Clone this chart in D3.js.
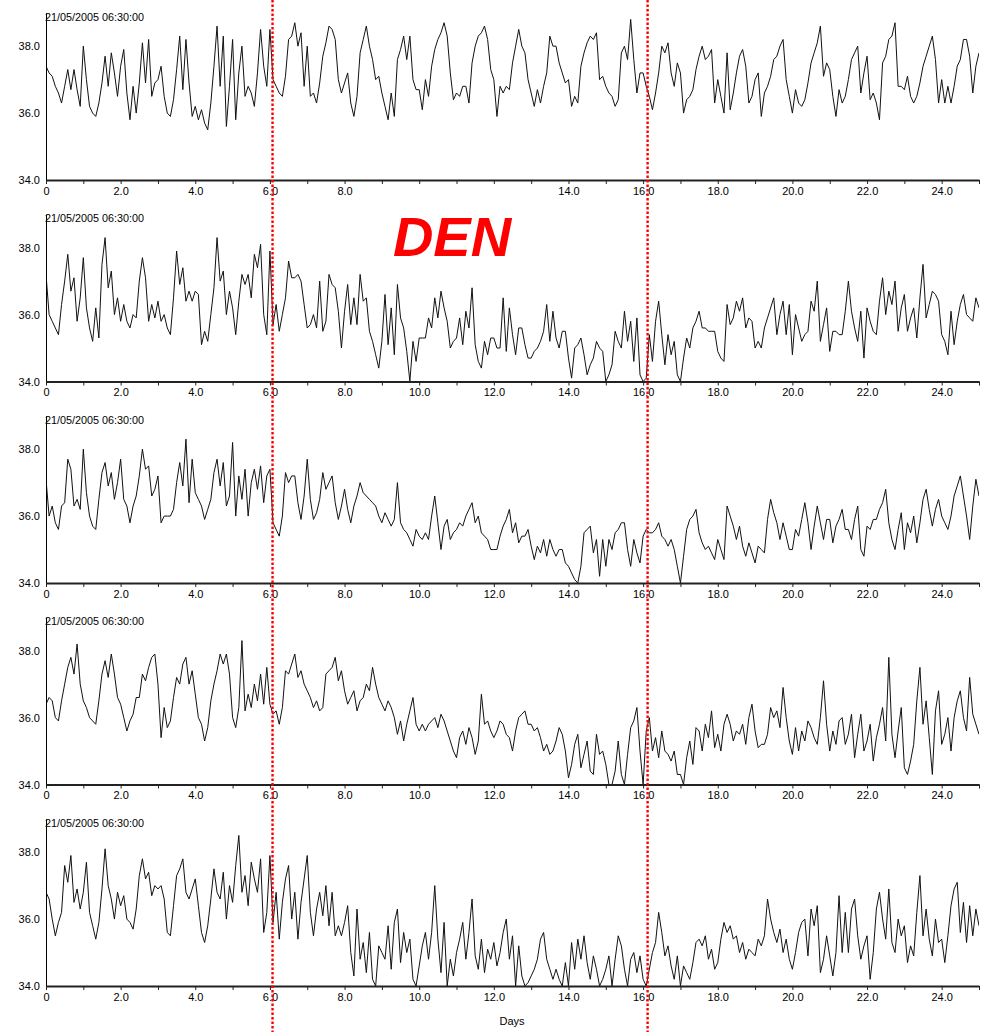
<!DOCTYPE html>
<html>
<head>
<meta charset="utf-8">
<script src="https://cdn.jsdelivr.net/npm/d3@7"></script>
<style>
  body { margin: 0; background: #fff; }
  svg { display: block; }
  text { font-family: "Liberation Sans", Arial, sans-serif; }
</style>
</head>
<body>
<svg id="chart" width="988" height="1032"></svg>
<script>
// Core body temperature (°C), one reading every 2 hours, 25 days per trace.
const samplesPerDay = 12;
const startStamp = "21/05/2005 06:30:00";
const dayTicks = d3.range(0, 26, 1);
const tempTicks = [34, 36, 38];
const markerDays = [6.07, 16.12];
const headline = "DEN";
const axisTitle = "Days";

const subject1 = [
  37.4,37.2,37.1,36.8,36.6,36.3,36.8,37.3,36.7,37.3,36.7,36.2,
  38.0,37.0,36.2,36.0,35.9,36.3,36.9,37.7,36.8,37.8,37.2,36.5,
  37.4,37.9,36.6,35.8,36.8,36.0,36.9,38.1,36.9,38.2,36.5,36.9,
  37.0,37.4,36.5,36.0,35.9,36.4,37.3,38.3,36.7,38.2,36.9,35.9,
  36.2,35.8,36.1,35.7,35.5,36.3,37.4,38.6,36.8,38.3,35.6,36.8,
  38.2,35.8,37.2,38.0,36.5,36.8,36.6,36.2,37.2,38.5,37.4,36.8,
  38.5,37.0,36.8,36.6,36.5,37.1,38.2,38.3,38.7,38.0,38.4,36.8,
  38.0,36.5,36.6,36.3,36.9,37.7,38.1,38.6,38.5,38.2,37.0,36.6,
  36.9,37.2,36.3,35.9,36.5,37.8,38.2,38.6,38.0,37.6,37.0,37.1,
  36.6,36.2,35.8,36.6,35.9,37.6,37.9,38.3,37.6,38.3,37.0,36.7,
  36.7,36.1,37.0,36.5,37.4,37.9,38.2,38.4,38.7,38.3,37.2,36.4,
  36.6,36.5,36.8,36.8,36.3,37.5,38.0,38.3,38.4,38.6,38.2,37.3,
  37.0,35.9,36.8,36.6,36.8,36.7,37.5,38.0,38.5,38.0,37.8,37.0,
  36.6,36.2,36.7,36.3,36.8,37.2,38.3,38.0,38.0,37.5,37.2,36.9,
  37.0,36.2,36.5,36.3,37.4,37.8,38.1,38.3,38.2,38.4,37.0,37.1,
  36.8,36.6,36.5,36.2,36.4,37.8,38.0,37.6,38.8,37.6,36.6,37.2,
  37.2,36.8,36.5,36.1,36.6,37.2,38.0,37.8,38.1,37.2,36.8,37.5,
  37.2,36.0,36.4,36.5,36.7,37.3,37.7,38.0,37.6,37.7,37.9,36.3,
  37.0,36.5,36.0,37.8,36.1,36.6,37.2,37.7,37.9,37.4,36.3,36.5,
  37.0,37.2,35.9,36.6,36.8,37.1,37.6,37.7,38.0,38.2,37.0,36.5,
  36.0,36.7,36.3,36.2,36.4,36.9,37.5,37.8,38.1,38.6,37.1,37.5,
  37.3,36.5,35.9,36.7,36.3,36.5,37.0,37.6,37.8,38.0,36.6,37.2,
  37.7,36.4,36.6,36.3,35.8,37.5,37.7,38.2,38.3,38.7,36.8,36.8,
  36.7,37.1,36.5,36.3,36.5,36.9,37.4,37.7,38.0,38.3,37.6,36.3,
  37.0,36.3,36.8,36.3,36.8,37.4,37.6,38.2,38.2,37.7,36.6,37.4,
  37.8
];

const subject2 = [
  37.2,36.0,35.8,35.6,35.4,36.3,37.0,37.8,36.7,37.1,35.8,36.5,
  37.7,36.2,35.6,35.2,36.2,35.3,37.5,38.3,36.8,37.3,36.0,36.5,
  35.8,36.3,35.8,35.6,36.0,35.9,37.0,37.7,37.1,35.8,36.3,35.9,
  36.4,35.8,36.0,35.6,35.4,36.5,37.9,36.9,37.4,36.4,36.7,36.4,
  36.7,36.6,35.1,35.5,35.2,36.0,36.8,38.3,37.0,37.3,36.0,36.7,
  36.2,35.4,36.4,37.2,36.9,37.2,36.5,37.8,37.4,38.1,36.0,35.4,
  37.9,35.7,36.3,35.5,36.0,36.5,37.6,37.1,37.1,37.2,37.0,36.3,
  35.6,35.7,36.0,35.6,37.0,35.5,35.8,37.2,36.9,36.8,36.1,35.0,
  36.1,36.9,35.7,36.5,35.7,37.2,36.4,36.5,35.5,35.2,34.8,34.4,
  35.2,36.6,35.1,36.2,34.8,36.9,35.9,35.6,34.9,34.0,35.2,34.6,
  35.3,35.3,35.3,35.9,35.6,36.5,35.9,36.7,36.2,35.8,35.0,35.2,
  35.3,35.9,35.1,36.1,35.6,36.8,35.1,34.6,34.4,35.2,34.8,35.3,
  35.3,35.0,35.0,36.5,34.9,36.2,35.4,34.8,35.6,35.6,35.1,34.7,
  34.7,34.9,35.0,35.2,35.5,36.3,35.2,36.1,35.3,35.0,35.5,35.5,
  34.7,34.1,35.0,35.1,35.3,34.8,34.2,34.5,34.7,35.2,35.0,34.9,
  34.0,34.2,34.5,35.5,35.2,35.0,36.1,35.2,35.8,34.6,35.9,34.2,
  34.0,34.1,35.4,34.6,35.8,36.4,35.4,34.5,35.4,34.8,35.2,34.2,
  34.0,34.7,35.3,35.0,35.6,35.8,36.1,35.6,35.6,35.5,35.5,35.5,
  34.9,34.7,34.6,36.3,35.7,35.9,36.4,36.1,36.5,35.6,35.9,35.8,
  35.0,35.2,35.0,35.6,35.9,36.2,36.5,35.4,36.0,36.4,35.4,36.3,
  34.8,36.0,35.6,35.2,35.4,35.5,36.4,36.1,37.0,35.2,35.7,36.2,
  34.9,35.5,35.5,35.4,35.4,36.1,37.0,36.1,35.6,35.2,36.1,34.7,
  36.2,35.8,35.5,35.4,36.4,37.1,36.0,36.7,36.3,37.0,35.5,36.2,
  36.6,35.5,35.9,36.2,35.3,36.5,37.5,35.9,36.3,36.7,36.6,36.4,
  35.4,35.2,34.8,36.1,35.1,35.8,36.3,36.6,36.0,35.9,35.8,36.5,
  36.2
];

const subject3 = [
  37.1,36.0,36.3,35.8,35.6,36.3,36.4,37.7,37.4,36.3,36.5,36.2,
  38.0,36.7,36.0,35.7,35.6,36.5,37.3,37.6,36.9,37.3,36.5,37.0,
  37.7,36.5,36.3,35.8,36.3,36.6,37.2,38.0,37.4,37.5,36.6,36.8,
  37.2,35.8,36.0,36.0,36.0,36.2,37.0,37.6,36.9,38.3,36.4,37.7,
  36.7,36.5,36.3,35.9,36.2,36.5,37.3,37.7,36.9,37.6,36.3,36.6,
  38.2,36.0,37.2,36.5,37.4,36.0,37.0,37.4,36.8,37.5,36.4,37.2,
  37.4,35.8,35.6,35.4,36.0,37.3,37.0,37.2,37.2,36.4,35.9,36.6,
  37.7,36.5,35.9,36.1,36.5,37.3,36.8,37.0,37.2,36.4,35.9,36.3,
  36.8,36.2,35.8,36.3,36.6,37.0,36.7,36.6,36.5,36.4,36.3,36.0,
  35.8,36.1,35.9,35.7,35.9,37.0,35.8,35.6,35.5,35.3,35.1,35.6,
  35.4,35.3,35.5,35.3,36.0,36.6,35.8,35.0,35.7,35.9,35.3,35.5,
  35.6,35.8,35.7,36.0,36.2,36.4,35.8,36.0,35.5,35.4,35.3,35.0,
  35.0,35.0,35.4,35.7,35.9,36.2,35.5,35.8,35.2,35.4,35.4,35.6,
  35.1,34.7,35.1,34.9,35.3,34.8,35.3,35.0,34.8,35.0,35.0,34.6,
  34.5,34.3,34.1,34.0,34.5,35.5,35.6,35.7,34.9,35.3,34.2,35.3,
  34.5,35.3,35.0,35.5,35.6,35.8,35.8,35.0,34.5,35.3,34.9,34.6,
  35.4,35.6,35.5,35.5,35.6,35.8,35.4,35.3,35.1,35.3,35.0,34.5,
  34.0,34.8,35.6,35.9,36.0,36.2,35.5,35.2,35.0,35.1,34.9,34.7,
  35.3,35.0,34.7,36.3,36.0,35.7,35.3,35.7,35.1,34.8,35.2,34.9,
  34.6,35.1,35.0,34.9,35.9,36.5,36.1,35.8,35.3,35.8,35.4,35.0,
  35.0,35.6,35.4,35.9,36.4,35.8,35.0,35.7,36.3,35.8,35.3,35.9,
  35.9,35.2,35.7,35.9,36.2,35.6,35.6,35.3,35.9,36.3,35.0,34.8,
  35.7,35.6,35.9,35.9,36.2,36.4,36.8,35.8,35.3,35.0,35.6,36.1,
  35.0,35.8,35.5,36.0,35.2,35.8,36.5,36.8,36.2,35.7,36.2,36.5,
  36.0,35.8,35.6,36.0,36.6,36.9,37.2,36.6,36.0,35.3,36.3,37.1,
  36.6
];

const subject4 = [
  36.4,36.6,36.5,36.0,35.9,36.5,37.0,37.5,37.8,37.3,38.2,37.0,
  36.5,36.3,36.0,35.9,35.8,36.5,37.3,37.7,37.2,37.9,37.3,36.6,
  36.4,36.0,35.6,35.9,36.1,36.6,36.6,37.3,37.1,37.5,37.8,37.9,
  37.0,35.4,36.3,35.7,35.9,36.6,37.2,37.0,37.6,37.8,37.0,37.4,
  36.7,36.0,35.8,35.3,35.7,36.5,37.0,37.4,37.9,37.6,37.9,37.3,
  36.0,35.7,36.3,38.3,36.2,36.7,36.3,37.0,36.5,37.3,36.4,37.5,
  36.4,36.1,36.2,35.8,36.3,37.4,37.3,37.6,37.9,37.2,37.4,37.0,
  36.8,36.6,36.3,36.5,36.2,36.3,37.3,37.4,37.5,37.8,37.1,37.4,
  36.8,36.4,36.6,36.8,36.2,36.5,36.6,37.0,36.8,37.5,37.0,36.6,
  36.4,36.2,36.5,36.3,36.0,35.5,35.9,35.3,35.8,36.2,36.6,35.8,
  35.6,35.8,35.6,35.8,35.9,36.0,35.7,36.1,35.9,35.6,35.3,35.0,
  34.8,35.4,35.6,35.2,35.7,35.4,34.9,35.3,36.7,35.8,35.9,35.6,
  35.4,35.6,35.9,35.8,35.5,35.4,35.0,35.6,36.0,36.1,36.2,35.8,
  35.8,35.6,35.7,35.4,35.0,35.2,34.9,35.0,35.3,35.7,35.5,35.0,
  34.2,34.6,35.2,35.5,34.5,34.9,35.3,34.4,34.3,35.5,34.9,35.0,
  34.6,34.0,34.0,34.4,35.3,34.3,34.0,34.9,35.7,35.9,36.3,35.0,
  34.0,35.6,36.0,35.0,35.4,34.8,35.6,35.0,34.9,34.7,35.0,34.3,
  34.3,34.0,34.8,35.3,34.6,35.7,35.6,35.0,35.8,35.4,36.2,35.1,
  35.5,35.0,35.8,36.1,35.8,35.3,35.6,35.5,35.8,35.2,36.0,36.4,
  35.6,35.1,35.2,35.2,35.5,36.3,36.0,36.2,35.7,36.9,36.0,35.3,
  34.9,35.7,35.0,35.6,35.3,35.9,35.7,35.4,35.2,36.0,37.1,35.8,
  35.0,35.6,35.2,35.9,36.0,35.2,35.5,36.1,34.8,35.5,36.1,35.0,
  35.3,35.8,34.7,35.4,35.8,36.3,35.3,37.8,35.5,34.8,35.6,36.3,
  34.5,34.3,34.7,35.2,36.5,37.5,35.8,36.5,35.4,34.3,36.2,36.8,
  35.2,35.5,36.0,35.0,36.0,36.5,36.8,36.0,35.6,37.2,36.1,35.8,
  35.5
];

const subject5 = [
  36.8,36.6,36.0,35.5,35.9,36.2,37.6,37.1,37.9,36.5,36.9,36.3,
  36.8,37.7,36.2,35.8,35.4,35.9,36.9,38.1,37.0,36.6,36.0,36.8,
  36.4,36.7,36.0,35.9,35.7,36.3,37.3,37.8,37.2,37.4,36.7,37.0,
  36.9,37.0,36.6,35.6,35.5,36.4,37.3,37.5,37.8,36.8,36.6,36.9,
  37.2,36.4,35.6,35.3,35.8,36.6,37.5,36.8,36.6,37.4,36.0,37.0,
  36.5,37.6,38.5,36.8,37.3,36.4,37.7,37.2,36.8,37.8,35.6,36.2,
  37.9,35.9,36.8,35.4,36.5,37.2,37.6,36.0,36.8,35.4,36.5,37.2,
  37.9,36.2,35.5,36.3,36.8,36.1,37.0,35.8,36.8,35.5,35.8,35.5,
  35.9,36.4,35.0,34.3,36.3,34.8,35.3,34.4,35.6,34.2,34.0,35.2,
  35.0,34.8,35.8,34.5,35.9,36.3,34.7,35.6,35.0,35.4,34.2,34.0,
  34.6,35.2,35.6,34.8,35.6,37.0,35.4,34.4,35.9,34.0,34.8,34.3,
  35.0,35.4,35.9,34.8,35.6,36.6,34.9,34.5,35.4,34.4,35.1,34.8,
  35.3,34.6,35.0,35.6,36.0,34.8,35.5,34.0,35.2,34.3,34.0,34.1,
  34.3,34.5,34.8,35.4,35.6,34.8,34.5,34.2,34.5,34.2,34.0,34.7,
  34.0,35.3,34.5,35.4,34.8,35.5,34.7,34.2,34.9,34.5,34.0,34.2,
  34.5,34.9,34.0,34.8,35.5,35.2,34.5,34.0,34.8,35.0,34.4,34.9,
  34.2,34.0,34.5,35.0,35.3,36.2,35.6,34.9,35.2,34.6,34.2,34.9,
  34.0,34.6,34.4,34.2,34.7,35.3,35.4,35.2,35.5,34.8,35.1,34.5,
  34.7,35.4,35.9,35.6,35.8,35.4,35.5,35.0,35.3,34.8,35.1,35.0,
  34.9,35.4,35.2,35.5,36.6,36.0,35.6,35.3,35.7,35.0,35.4,34.8,
  34.5,35.0,35.6,35.9,36.0,34.9,36.3,35.8,36.4,34.4,34.8,35.5,
  34.9,34.3,35.0,36.7,35.0,36.2,35.0,36.3,36.6,35.5,34.8,35.2,
  35.5,34.2,35.0,36.3,36.8,36.0,35.4,36.9,35.3,35.0,36.0,35.5,
  35.8,34.7,35.2,34.9,36.2,37.3,35.5,36.3,35.4,34.9,36.0,35.3,
  35.4,34.7,35.5,36.4,36.9,37.1,35.6,36.5,35.3,36.4,35.5,36.3,
  35.8
];

const traces = [subject1, subject2, subject3, subject4, subject5];
// x-axis labels left off the top panel's axis
const hiddenTopLabels = [10, 12];

const svg = d3.select("#chart");
const W = 988, H = 1032;

const x = d3.scaleLinear().domain([0, 25]).range([46, 979]);
const baseLines = [180, 381.5, 583, 784.5, 986];
const plotHeight = 167.3;

const line = d3.line()
  .x((d, i) => x(i / samplesPerDay))
  .curve(d3.curveLinear);

traces.forEach((values, k) => {
  const base = baseLines[k];
  const y = d3.scaleLinear().domain([34, 39]).range([base, base - plotHeight]);
  const g = svg.append("g");

  g.append("clipPath").attr("id", "clip" + k)
    .append("rect")
    .attr("x", x(0)).attr("y", y(39) - 2)
    .attr("width", x(25) - x(0)).attr("height", y(34) - y(39) + 2);

  // temperature trace
  g.append("path")
    .datum(values)
    .attr("clip-path", `url(#clip${k})`)
    .attr("fill", "none")
    .attr("stroke", "#111")
    .attr("stroke-width", 1)
    .attr("stroke-linejoin", "miter")
    .attr("d", line.y(v => y(v)));

  // y axis
  const yAxis = d3.axisLeft(y)
    .tickValues(tempTicks)
    .tickSize(0)
    .tickPadding(6)
    .tickFormat(d3.format(".1f"));
  const ya = g.append("g").attr("transform", `translate(${x(0)},0)`).call(yAxis);
  ya.select(".domain").attr("stroke", "#000").attr("stroke-width", 1);
  ya.selectAll("text").attr("font-size", 11).attr("fill", "#000")
    .attr("font-family", "'Liberation Sans', Arial, sans-serif");

  // x axis
  const xAxis = d3.axisBottom(x)
    .tickValues(dayTicks)
    .tickSize(4)
    .tickSizeOuter(0)
    .tickPadding(3)
    .tickFormat(d => {
      if (d % 2 !== 0) return "";
      if (k === 0 && hiddenTopLabels.includes(d)) return "";
      return d === 0 ? "0" : d3.format(".1f")(d);
    });
  const xa = g.append("g").attr("transform", `translate(0,${base})`).call(xAxis);
  xa.select(".domain").attr("stroke", "#222").attr("stroke-width", 2);
  xa.selectAll(".tick line").attr("stroke", "#222");
  xa.selectAll("text").attr("font-size", 11).attr("fill", "#000")
    .attr("font-family", "'Liberation Sans', Arial, sans-serif");

  // recording start stamp
  g.append("text")
    .attr("x", x(0) - 1)
    .attr("y", base - plotHeight + 8)
    .attr("font-size", 10.8)
    .attr("fill", "#000")
    .text(startStamp);
});

// axis title
svg.append("text")
  .attr("x", 512).attr("y", 1025)
  .attr("text-anchor", "middle")
  .attr("font-size", 11)
  .attr("fill", "#000")
  .text(axisTitle);

// red dotted event markers spanning every panel
svg.selectAll("line.marker")
  .data(markerDays)
  .enter().append("line")
  .attr("class", "marker")
  .attr("x1", d => x(d)).attr("x2", d => x(d))
  .attr("y1", 0).attr("y2", H)
  .attr("stroke", "#ff0000")
  .attr("stroke-width", 2.4)
  .attr("stroke-dasharray", "2.5,2");

// headline
svg.append("text")
  .attr("x", 452).attr("y", 256)
  .attr("text-anchor", "middle")
  .attr("font-family", "Lato, 'Liberation Sans', Arial, sans-serif")
  .attr("font-size", 56)
  .attr("font-weight", "bold")
  .attr("font-style", "italic")
  .attr("fill", "#ff0000")
  .text(headline);
</script>
</body>
</html>
